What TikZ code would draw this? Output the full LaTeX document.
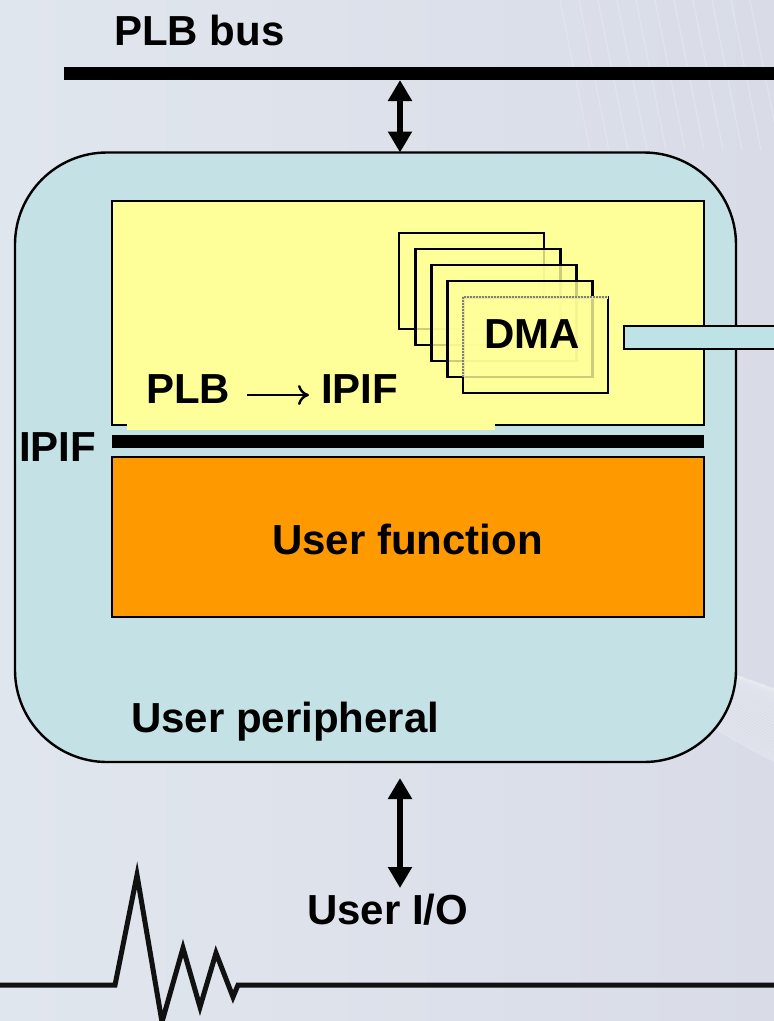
\documentclass[tikz,border=0pt]{standalone}
\usepackage{fontspec}
\setmainfont{Liberation Sans}
\usetikzlibrary{arrows.meta}

\definecolor{yellowA}{HTML}{FFFF99}
\definecolor{orangeC}{HTML}{FF9900}
\definecolor{boxC}{HTML}{C4E2E6}
\definecolor{linkC}{HTML}{BDE3E7}
\definecolor{bgL}{HTML}{E0E6EE}
\definecolor{bgM}{HTML}{D3D3E3}
\definecolor{bgR}{HTML}{D9DCE7}
\definecolor{ink}{HTML}{111111}

\begin{document}
\begin{tikzpicture}[x=1pt,y=-1pt,
  lbl/.style={font=\fontsize{42}{48}\selectfont\bfseries, inner sep=0pt, anchor=base west},
  busline/.style={line width=13pt, draw=black},
  dblarrow/.style={line width=6pt, draw=black,
    {Triangle[length=21pt,width=23pt]}-{Triangle[length=21pt,width=23pt]}},
  block/.style={draw=black, line width=2pt, inner sep=0pt, outer sep=0pt, anchor=north west},
  dmabox/.style={draw=black, line width=2.4pt, fill=yellowA, fill opacity=0.8,
    inner sep=0pt, outer sep=0pt, anchor=north west, minimum width=145pt, minimum height=96pt},
]
\useasboundingbox (0,0) rectangle (774,1021);
\begin{scope}
\clip (0,0) rectangle (774,1021);

% background wash with light streaks
\fill[left color=bgL, middle color=bgM, right color=bgR] (0,0) rectangle (774,1021);
\foreach \i in {0,...,34} {
  \draw[white, opacity=0.22, line width=1.6pt]
    ({420+\i*11},{560+\i*4}) .. controls ++(150,60) and ++(-120,-40) .. ++(420,230);
}
\foreach \i in {0,...,10} {
  \draw[white, opacity=0.18, line width=1.4pt]
    ({560+\i*19},0) -- ++(30,150);
}

% PLB bus
\coordinate (busL) at (64,73.5);
\coordinate (busR) at (790,73.5);
\draw[busline] (busL) -- (busR);
\node[lbl] (buslbl) at (114,45) {PLB bus};

% user peripheral
\node[block, line width=2.4pt, fill=boxC, rounded corners=92pt,
      minimum width=721pt, minimum height=609.5pt] (periph) at (15,152.5) {};
\node[lbl] (periphlbl) at (131,732) {User peripheral};

% PLB to IPIF block
\node[block, fill=yellowA, minimum width=592pt, minimum height=223.5pt] (plbipif) at (111.5,201) {};
\fill[yellowA] (127,418) rectangle (495,429.5);
\node[lbl] (plbtxt) at (146,403) {PLB};
\coordinate (convL) at (247,395);
\coordinate (convR) at (309,395);
\draw[line width=2.4pt, -{To[length=11pt,width=20pt,line width=2.4pt]}] (convL) -- (convR);
\node[lbl] (ipiftxt) at (321,403) {IPIF};

% DMA channels
\node[dmabox] (dma1) at (399,233) {};
\node[dmabox] (dma2) at (415.5,249) {};
\node[dmabox] (dma3) at (431.5,265) {};
\node[dmabox] (dma4) at (447.5,281) {};
\node[dmabox] (dma5) at (463,297) {};
% front channel: top and left edges shown as a light dotted rule
\draw[line width=3pt, draw=yellowA!92!black]
  (dma5.south west) ++(0,-16) -- (dma5.north west) -- (dma5.north east);
\draw[line width=2pt, draw=black!50, densely dotted]
  (dma5.south west) ++(0,-16) -- (dma5.north west) -- (dma5.north east);
\node[lbl] (dmatxt) at (484,348) {DMA};

% DMA link leaving the peripheral
\node[draw=black, line width=2pt, fill=linkC, inner sep=0pt, outer sep=0pt,
      minimum width=170pt, minimum height=23pt, anchor=west] (dmalink) at (624,337.5) {};

% IPIF interface bar
\node[fill=black, inner sep=0pt, outer sep=0pt, minimum width=592.5pt, minimum height=13pt,
      anchor=north west] (ipifbar) at (111.5,435) {};
\node[lbl] (ipiflbl) at (19,461) {IPIF};

% user function
\node[block, fill=orangeC, minimum width=592pt, minimum height=159.5pt] (userfn) at (111.5,457) {};
\node[lbl, anchor=base] (userfntxt) at (407.5,554) {User function};

% bus and I/O connections
\coordinate (busTap) at (400,80);
\draw[dblarrow] (busTap) -- (busTap |- periph.north);
\coordinate (ioTop) at (400,778);
\coordinate (ioBot) at (400,888);
\draw[dblarrow] (ioTop) -- (ioBot);
\node[lbl] (iolbl) at (307,924) {User I/O};

% signal trace
\draw[ink, line width=5pt, line join=miter, miter limit=6]
  (-5,985) -- (115,985) -- (137,875) -- (162,1022) -- (183,948) -- (200,1007)
  -- (216,953) -- (233,997) -- (238,985) -- (790,985);
\end{scope}
\end{tikzpicture}
\end{document}
